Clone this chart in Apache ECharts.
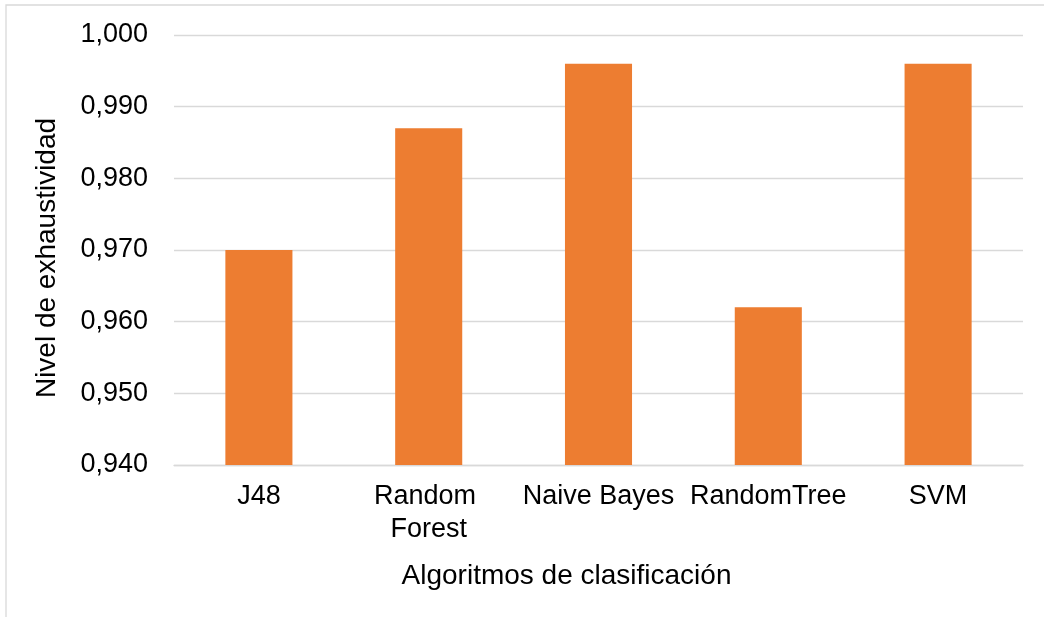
<!DOCTYPE html>
<html>
<head>
<meta charset="utf-8">
<script src="https://cdn.jsdelivr.net/npm/echarts@6/dist/echarts.min.js"></script>
<style>
  html, body { margin: 0; padding: 0; background: #ffffff; }
  #chart { width: 1044px; height: 617px; }
</style>
</head>
<body>
<div id="chart"></div>
<script>
// Recall level per classification algorithm
const categories = ['J48', 'Random Forest', 'Naive Bayes', 'RandomTree', 'SVM'];
const recall = [0.970, 0.987, 0.996, 0.962, 0.996];
const yTicks = { min: 0.94, max: 1.0, step: 0.01 };
const xTitle = 'Algoritmos de clasificación';
const yTitle = 'Nivel de exhaustividad';

const FONT = '"Liberation Sans", Arial, sans-serif';
const GRID_COLOR = '#d9d9d9';

const chart = echarts.init(document.getElementById('chart'), null, { renderer: 'canvas' });

chart.setOption({
  backgroundColor: '#ffffff',
  animation: false,
  textStyle: { fontFamily: FONT },
  graphic: [{
    type: 'rect',
    shape: { x: 6, y: 5, width: 1100, height: 700 },
    style: { fill: 'none', stroke: GRID_COLOR, lineWidth: 1.3 },
    silent: true,
    z: -1
  }],
  grid: { left: 174, right: 21, top: 35, bottom: 152, containLabel: false },
  xAxis: {
    type: 'category',
    data: categories,
    name: xTitle,
    nameLocation: 'middle',
    nameGap: 97,
    nameTextStyle: { color: '#000000', fontSize: 28, fontFamily: FONT, lineHeight: 28, padding: [0, 64, 0, 0] },
    axisLine: { show: true, lineStyle: { color: GRID_COLOR, width: 1.3 } },
    axisTick: { show: false },
    axisLabel: {
      color: '#000000', fontSize: 27, fontFamily: FONT,
      margin: 15, lineHeight: 33, interval: 0,
      width: 170, overflow: 'break'
    }
  },
  yAxis: {
    type: 'value',
    min: yTicks.min,
    max: yTicks.max,
    interval: yTicks.step,
    name: yTitle,
    nameLocation: 'middle',
    nameGap: 113,
    nameRotate: 90,
    nameTextStyle: { color: '#000000', fontSize: 28, fontFamily: FONT, lineHeight: 28, padding: [0, 16, 0, 0] },
    axisLine: { show: false },
    axisTick: { show: false },
    axisLabel: {
      color: '#000000', fontSize: 27, fontFamily: FONT, margin: 26,
      formatter: v => v.toFixed(3).replace('.', ',')
    },
    splitLine: { show: true, lineStyle: { color: GRID_COLOR, width: 1.3 } }
  },
  series: [{
    type: 'bar',
    data: recall,
    barWidth: '39.5%',
    itemStyle: { color: '#ed7d31' },
    emphasis: { disabled: true }
  }]
});
</script>
</body>
</html>
